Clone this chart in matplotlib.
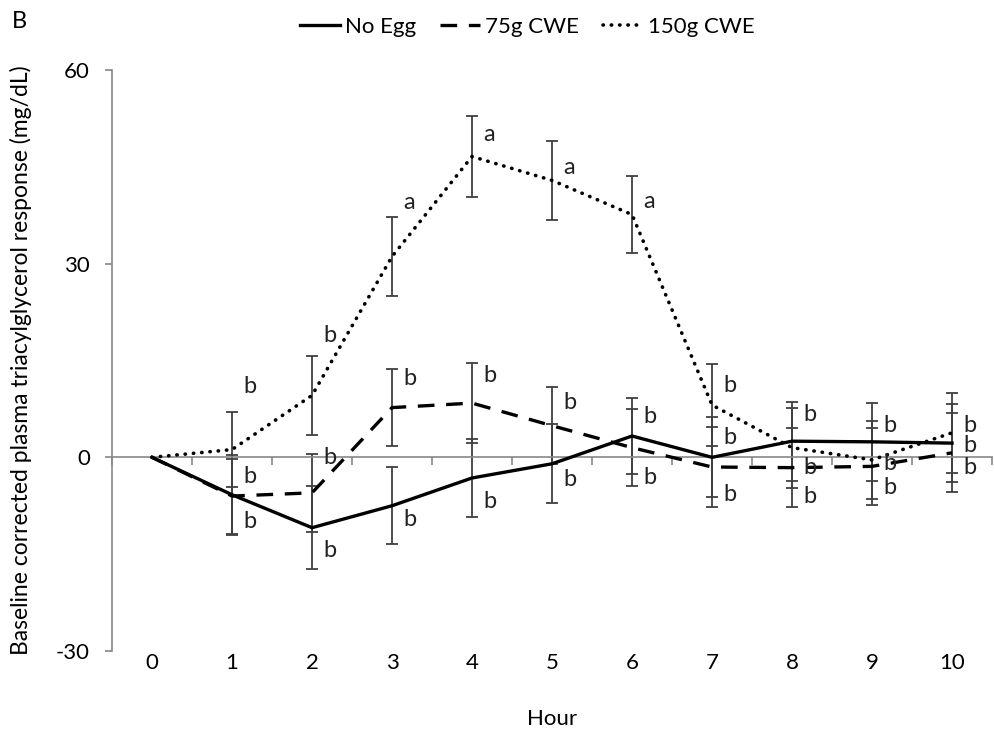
import numpy as np
import matplotlib
matplotlib.use("Agg")
import matplotlib.pyplot as plt

plt.rcParams['font.family'] = ['Lato', 'DejaVu Sans']
plt.rcParams['axes.unicode_minus'] = False

hours = list(range(11))
no_egg = [0, -5.8, -10.9, -7.5, -3.2, -1.0, 3.3, 0.0, 2.5, 2.4, 2.2]
cwe75 = [0, -6.0, -5.5, 7.7, 8.4, 4.9, 1.5, -1.5, -1.6, -1.4, 0.7]
cwe150 = [0, 1.2, 9.6, 31.1, 46.6, 42.9, 37.6, 8.1, 1.5, -0.4, 3.8]

sem_no_egg = [0, 6.2, 6.4, 6.0, 6.0, 6.1, 5.9, 6.2, 6.1, 6.0, 6.0]
sem_75 = [0, 5.8, 6.0, 6.0, 6.2, 6.0, 6.0, 6.2, 6.1, 6.0, 6.1]
sem_150 = [0, 5.8, 6.1, 6.1, 6.2, 6.1, 6.0, 6.3, 6.2, 6.0, 6.2]

# significance letters (hours 1..10), three per hour, with their y positions
let_top = ['b', 'b', 'a', 'a', 'a', 'a', 'b', 'b', 'b', 'b']
let_top_y = [10.9, 18.8, 39.4, 50.0, 44.9, 39.6, 11.2, 6.6, 5.0, 5.0]
let_mid = ['b'] * 10
let_mid_y = [-2.9, 0.0, 12.2, 12.6, 8.5, 6.4, 3.0, -1.5, -0.9, 1.9]
let_bot = ['b'] * 10
let_bot_y = [-10.0, -14.4, -9.7, -6.9, -3.5, -3.2, -5.8, -6.1, -4.6, -1.5]

FS = 16

fig = plt.figure(figsize=(9.95, 7.36), dpi=100)
ax = fig.add_axes([0.1126, 0.1155, 0.8844, 0.7894])

series = [
    (no_egg, sem_no_egg, 'No Egg', dict(linestyle='-', lw=2.4)),
    (cwe75, sem_75, '75g CWE', dict(linestyle=(0, (5, 3.5)), lw=2.4)),
    (cwe150, sem_150, '150g CWE', dict(linestyle=(0, (0.1, 2.2)), lw=2.6,
                                      dash_capstyle='round')),
]

h = np.array(hours)
for vals, sem, name, st in series:
    v = np.array(vals)
    s = np.array(sem)
    ax.errorbar(h[1:], v[1:], yerr=s[1:], fmt='none', ecolor='#404040',
                elinewidth=1.3, capsize=4, capthick=1.3, zorder=2)
    ax.plot(h, v, color='black', label=name, zorder=3, **st)

for i in range(10):
    x = hours[i + 1] + 0.14
    for lets, ys in ((let_top, let_top_y), (let_mid, let_mid_y), (let_bot, let_bot_y)):
        ax.text(x, ys[i], lets[i], ha='left', va='center', fontsize=17, color='#222222')

ax.set_xlim(-0.5, 10.5)
ax.set_ylim(-30, 60)
ax.set_yticks([-30, 0, 30, 60])
ax.spines['top'].set_visible(False)
ax.spines['right'].set_visible(False)
ax.spines['left'].set_color('#888888')
ax.spines['bottom'].set_position(('data', 0))
ax.spines['bottom'].set_color('#888888')
ax.spines['bottom'].set_linewidth(1.2)
ax.spines['left'].set_linewidth(1.2)

ax.set_xticks(hours)
ax.set_xticks(np.arange(-0.5, 10.6, 1.0), minor=True)
ax.tick_params(axis='x', which='major', length=0, pad=141, labelsize=FS)
ax.tick_params(axis='x', which='minor', length=6, direction='out', color='#888888', width=1.2)
ax.tick_params(axis='y', length=5, color='#888888', width=1.2, labelsize=FS, pad=11)

ax.set_xlabel('Hour', fontsize=FS, labelpad=26)
ax.set_ylabel('Baseline corrected plasma triacylglycerol response (mg/dL)',
              fontsize=16.5, labelpad=17)

fig.text(0.012, 0.985, 'B', fontsize=17, ha='left', va='top')
fig.legend(loc='upper center', bbox_to_anchor=(0.53, 1.004), ncol=3, frameon=False,
           fontsize=FS, handlelength=1.8, handletextpad=0.2, columnspacing=1.1)

fig.savefig('out.png', dpi=100)
